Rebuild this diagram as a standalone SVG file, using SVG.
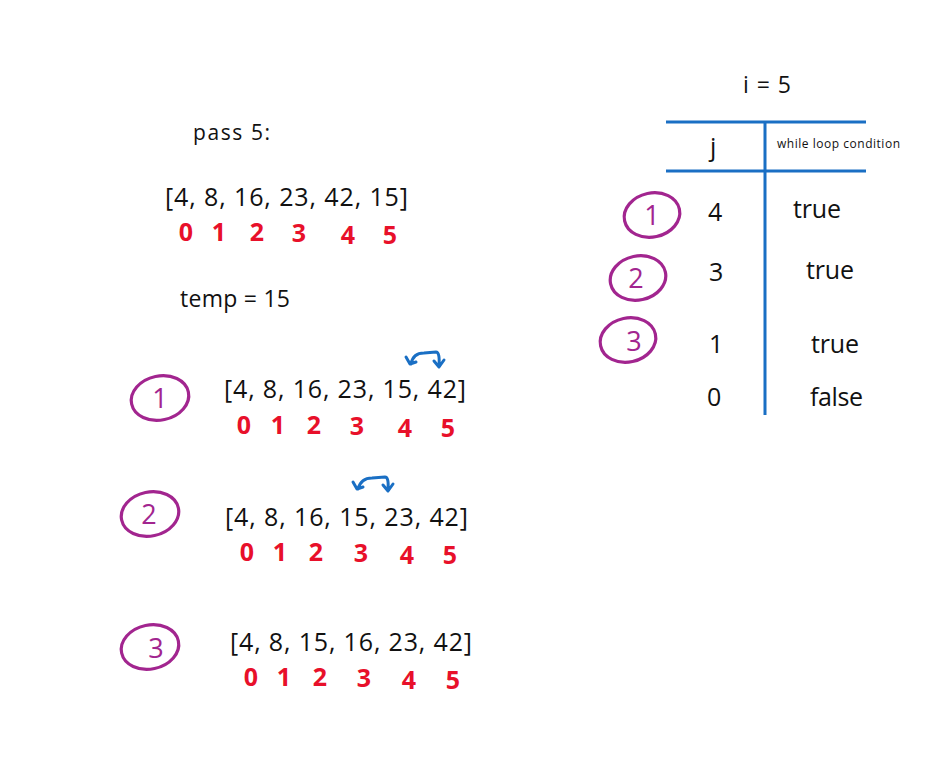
<svg xmlns="http://www.w3.org/2000/svg" width="945" height="768" viewBox="0 0 945 768">
<style>
.t{font-family:"Open Sans","Liberation Sans",sans-serif;fill:#111;}
.arr{font-size:25px;}
.idx{font-family:"Open Sans","Liberation Sans",sans-serif;fill:#e8102a;font-size:25px;font-weight:700;text-anchor:middle;}
.cir{fill:none;stroke:#a2258f;stroke-width:3.2;}
.cn{font-family:"Open Sans","Liberation Sans",sans-serif;fill:#a2258f;font-size:27px;text-anchor:middle;}
.tl{stroke:#1a6fc4;stroke-width:3;fill:none;}
.sw{stroke:#1a6fc4;stroke-width:3;fill:none;stroke-linecap:round;stroke-linejoin:round;}
.tb{font-family:"Open Sans","Liberation Sans",sans-serif;fill:#111;font-size:25px;}
</style>
<rect width="945" height="768" fill="#fff"/>

<g id="header">
<text class="t" x="193" y="140" font-size="21" textLength="77">pass 5:</text>
<text class="t arr" x="165" y="206" textLength="243">[4, 8, 16, 23, 42, 15]</text>
<g>
<text class="idx" x="186" y="241">0</text><text class="idx" x="219" y="241">1</text><text class="idx" x="257" y="241">2</text><text class="idx" x="299" y="242">3</text><text class="idx" x="348" y="244">4</text><text class="idx" x="390" y="244">5</text>
</g>
<text class="t" x="180" y="307" font-size="23" textLength="110">temp = 15</text>
</g>

<g id="step1">
<ellipse class="cir" cx="160" cy="398" rx="29" ry="22" transform="rotate(-12 160 398)"/>
<text class="cn" x="160" y="408">1</text>
<text class="t arr" x="224" y="398" textLength="242">[4, 8, 16, 23, 15, 42]</text>
<text class="idx" x="244" y="434">0</text><text class="idx" x="278" y="434">1</text><text class="idx" x="314" y="434">2</text><text class="idx" x="357" y="435">3</text><text class="idx" x="405" y="437">4</text><text class="idx" x="448" y="437">5</text>
</g>

<g id="step2">
<ellipse class="cir" cx="150" cy="514" rx="29" ry="22" transform="rotate(-12 150 514)"/>
<text class="cn" x="149" y="524">2</text>
<text class="t arr" x="225" y="526" textLength="243">[4, 8, 16, 15, 23, 42]</text>
<text class="idx" x="247" y="561">0</text><text class="idx" x="280" y="561">1</text><text class="idx" x="316" y="561">2</text><text class="idx" x="361" y="562">3</text><text class="idx" x="407" y="564">4</text><text class="idx" x="450" y="564">5</text>
</g>

<g id="step3">
<ellipse class="cir" cx="150" cy="647" rx="29" ry="22" transform="rotate(-12 150 647)"/>
<text class="cn" x="156" y="658">3</text>
<text class="t arr" x="230" y="651" textLength="242">[4, 8, 15, 16, 23, 42]</text>
<text class="idx" x="251" y="686">0</text><text class="idx" x="284" y="686">1</text><text class="idx" x="320" y="686">2</text><text class="idx" x="364" y="687">3</text><text class="idx" x="409" y="689">4</text><text class="idx" x="453" y="689">5</text>
</g>

<g id="table">
<text class="t" x="743" y="93" font-size="23" textLength="48">i = 5</text>
<text class="tb" x="710" y="156">j</text>
<text class="t" x="777" y="148" font-size="12" textLength="123">while loop condition</text>
<text class="tb" x="708" y="221">4</text><text class="tb" x="793" y="218" textLength="48">true</text>
<text class="tb" x="709" y="281">3</text><text class="tb" x="806" y="279" textLength="48">true</text>
<text class="tb" x="709" y="353">1</text><text class="tb" x="811" y="353" textLength="48">true</text>
<text class="tb" x="707" y="406">0</text><text class="tb" x="810" y="406" textLength="53">false</text>
<ellipse class="cir" cx="652" cy="215" rx="28" ry="22" transform="rotate(-12 652 215)"/>
<text class="cn" x="652" y="225">1</text>
<ellipse class="cir" cx="638" cy="278" rx="28" ry="22" transform="rotate(-12 638 278)"/>
<text class="cn" x="636" y="288">2</text>
<ellipse class="cir" cx="628" cy="340" rx="28" ry="22" transform="rotate(-12 628 340)"/>
<text class="cn" x="634" y="351">3</text>
</g>

<g id="connectors">
<line class="tl" x1="666" y1="122" x2="866" y2="122"/>
<line class="tl" x1="666" y1="171" x2="866" y2="171"/>
<line class="tl" x1="765" y1="122" x2="765" y2="415"/>
<path class="sw" d="M411 364 Q413 353 424 353 L436 352 Q440 352 439 366 M406 357 L410 364 L416 362 M434 361 L439 367 L444 360"/>
<path class="sw" d="M358 489 Q361 478 372 478 L385 477 Q389 477 388 490 M353 482 L357 489 L363 487 M383 485 L388 491 L393 484"/>
</g>
</svg>
